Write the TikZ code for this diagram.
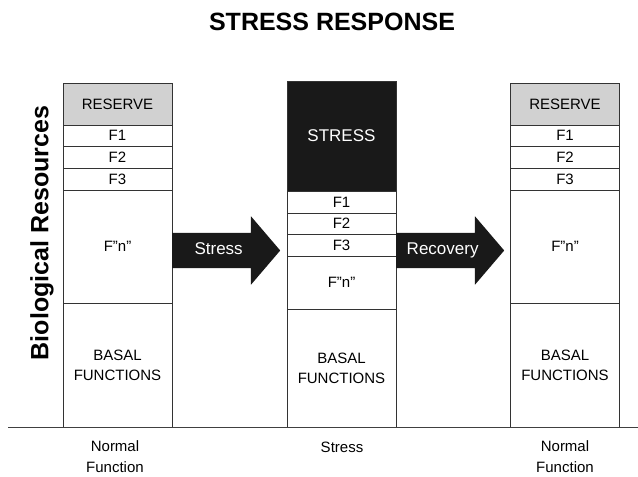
\documentclass[tikz,border=0pt]{standalone}
\usepackage{fontspec}
\setmainfont{Liberation Sans}
\usetikzlibrary{shapes.arrows}

\begin{document}
\begin{tikzpicture}[x=1pt, y=-1pt,
    layer/.style={draw=black!80, line width=0.7pt, minimum width=109pt, inner sep=0pt, align=center, font=\fontsize{15}{20}\selectfont},
    reserve/.style={layer, fill=black!18},
    stresslayer/.style={layer, fill=black!90, text=white, font=\fontsize{17}{20}\selectfont},
    blockarrow/.style={single arrow, fill=black!90, text=white, anchor=tail, font=\fontsize{17}{20}\selectfont, minimum height=108pt, single arrow head extend=16.5pt, single arrow tip angle=99, single arrow head indent=0pt, inner xsep=0pt, inner ysep=9.5pt, text height=12pt, text depth=4pt},
    caption/.style={align=center, font=\fontsize{15}{21}\selectfont},
    heading/.style={font=\fontsize{25}{30}\selectfont\bfseries}]
    \useasboundingbox (0,0) rectangle (638,477);

    \node[heading] (title) at (332, 22) {STRESS RESPONSE};
    \node[heading, rotate=90] (ylabel) at (42, 233) {Biological Resources};

    \node[reserve, minimum height=42pt] (lres) at (117.5, 104) {RESERVE};
    \node[layer, minimum height=21pt] (lf1) at (117.5, 135.5) {F1};
    \node[layer, minimum height=22pt] (lf2) at (117.5, 157) {F2};
    \node[layer, minimum height=22pt] (lf3) at (117.5, 179) {F3};
    \node[layer, minimum height=113pt] (lfn) at (117.5, 246.5) {F''n''};
    \node[layer, minimum height=124pt] (lbas) at (117.5, 365) {BASAL\\FUNCTIONS};

    \node[stresslayer, minimum height=110pt] (mstr) at (341.5, 136) {STRESS};
    \node[layer, minimum height=22pt] (mf1) at (341.5, 202) {F1};
    \node[layer, minimum height=21pt] (mf2) at (341.5, 223.5) {F2};
    \node[layer, minimum height=22pt] (mf3) at (341.5, 245) {F3};
    \node[layer, minimum height=53pt] (mfn) at (341.5, 282.5) {F''n''};
    \node[layer, minimum height=118pt] (mbas) at (341.5, 368) {BASAL\\FUNCTIONS};

    \node[reserve, minimum height=42pt] (rres) at (565, 104) {RESERVE};
    \node[layer, minimum height=21pt] (rf1) at (565, 135.5) {F1};
    \node[layer, minimum height=22pt] (rf2) at (565, 157) {F2};
    \node[layer, minimum height=22pt] (rf3) at (565, 179) {F3};
    \node[layer, minimum height=113pt] (rfn) at (565, 246.5) {F''n''};
    \node[layer, minimum height=124pt] (rbas) at (565, 365) {BASAL\\FUNCTIONS};

    \node[blockarrow] (stressarrow) at (172, 250.5) {Stress};
    \node[blockarrow] (recoveryarrow) at (396, 250.5) {Recovery};

    \coordinate (axisstart) at (8, 427);
    \coordinate (axisend) at (638, 427);
    \draw[black!75, line width=0.8pt] (axisstart) -- (axisend);

    \node[caption] (lcap) at (115, 457) {Normal\\Function};
    \node[caption] (mcap) at (342, 447) {Stress};
    \node[caption] (rcap) at (565, 457) {Normal\\Function};
\end{tikzpicture}
\end{document}
